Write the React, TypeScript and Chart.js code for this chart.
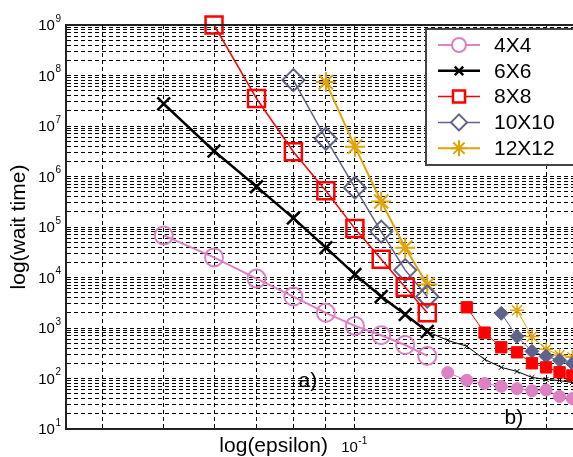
import React, { useEffect, useRef } from 'react';
import { Chart, registerables } from 'chart.js';
import { drawPoint } from 'chart.js/helpers';

Chart.register(...registerables);

const FONT = '"Liberation Sans", Arial, Helvetica, sans-serif';

const seriesNames = ['4X4', '6X6', '8X8', '10X10', '12X12'];
const seriesColors = ['#DD80C4', '#000000', '#FF0000', '#5F6389', '#E2A30A'];

// panel a) (hollow markers)
const epsA4 = [0.05, 0.06, 0.07, 0.08, 0.09, 0.1, 0.11, 0.12, 0.13];
const waitA4 = [6.8e4, 2.5e4, 9.5e3, 4.2e3, 2.0e3, 1.1e3, 7.2e2, 4.6e2, 2.8e2];
const epsA6 = [0.05, 0.06, 0.07, 0.08, 0.09, 0.1, 0.11, 0.12, 0.13];
const waitA6 = [2.75e7, 3.2e6, 6.3e5, 1.5e5, 3.9e4, 1.15e4, 4.2e3, 1.85e3, 8.5e2];
const epsA8 = [0.06, 0.07, 0.08, 0.09, 0.1, 0.11, 0.12, 0.13];
const waitA8 = [1e9, 3.5e7, 3.1e6, 5.2e5, 9.3e4, 2.3e4, 6.4e3, 2.0e3];
const epsA10 = [0.08, 0.09, 0.1, 0.11, 0.12, 0.13];
const waitA10 = [8.1e7, 5.6e6, 6.0e5, 8.1e4, 1.4e4, 4.2e3];
const epsA12 = [0.09, 0.1, 0.11, 0.12, 0.13];
const waitA12 = [7.4e7, 3.9e6, 3.2e5, 3.9e4, 7.3e3];

// panel b) (filled small markers)
const epsB4 = [0.14, 0.15, 0.16, 0.17, 0.18, 0.19, 0.2, 0.21, 0.22];
const waitB4 = [131, 92, 80, 70, 63, 57, 59, 44, 40];
const epsB6 = [0.13, 0.14, 0.15, 0.16, 0.17, 0.18, 0.19, 0.2, 0.21, 0.22];
const waitB6 = [850, 569, 436, 240, 166, 138, 105, 96, 91, 83];
const epsB8 = [0.15, 0.16, 0.17, 0.18, 0.19, 0.2, 0.21, 0.22];
const waitB8 = [2570, 810, 415, 330, 200, 166, 133, 115];
const epsB10 = [0.17, 0.18, 0.19, 0.2, 0.21, 0.22];
const waitB10 = [1950, 680, 345, 275, 230, 200];
const epsB12 = [0.18, 0.19, 0.2, 0.21, 0.22];
const waitB12 = [2240, 680, 380, 290, 265];

// tick labels: base and exponent
const yDecades = [1, 2, 3, 4, 5, 6, 7, 8, 9];
const yTickExp = ['1', '2', '3', '4', '5', '6', '7', '8', '9'];
const xGridValues = [0.04, 0.05, 0.06, 0.07, 0.08, 0.09, 0.1, 0.2];
const xLabelValues = [0.1];
const xLabelExp = ['-1'];
const tickBase = '10';
const xTitle = 'log(epsilon)';
const yTitle = 'log(wait time)';
const panelLabels = ['a)', 'b)'];
const panelLabelEps = [0.0815, 0.172];
const panelLabelWait = [89, 16];

const pts = (xs: number[], ys: number[]) => xs.map((x, i) => ({ x, y: ys[i] }));

const aStyles = [
  { pointStyle: 'circle', radius: 9, pbw: 2, lw: 2, legendR: 7 },
  { pointStyle: 'crossRot', radius: 9, pbw: 2.5, lw: 2.5, legendR: 6 },
  { pointStyle: 'rect', radius: 12, pbw: 2.5, lw: 1.5, legendR: 8.5 },
  { pointStyle: 'rectRot', radius: 11, pbw: 2, lw: 1.5, legendR: 8 },
  { pointStyle: 'star', radius: 10, pbw: 2, lw: 2, legendR: 8 },
];
const bStyles = [
  { pointStyle: 'circle', radius: 6, pbw: 1 },
  { pointStyle: 'crossRot', radius: 3.5, pbw: 1 },
  { pointStyle: 'rect', radius: 8, pbw: 1 },
  { pointStyle: 'rectRot', radius: 7, pbw: 1 },
  { pointStyle: 'star', radius: 7, pbw: 1.5 },
];

const aData = [pts(epsA4, waitA4), pts(epsA6, waitA6), pts(epsA8, waitA8), pts(epsA10, waitA10), pts(epsA12, waitA12)];
const bData = [pts(epsB4, waitB4), pts(epsB6, waitB6), pts(epsB8, waitB8), pts(epsB10, waitB10), pts(epsB12, waitB12)];

const yTickValues: number[] = [];
yDecades.forEach((e) => {
  for (let s = 1; s <= 9; s++) {
    if (e === 9 && s > 1) break;
    yTickValues.push(s * Math.pow(10, e));
  }
});

const BASE_FONT = `15px ${FONT}`;
const EXP_FONT = `10px ${FONT}`;

function powWidth(ctx: CanvasRenderingContext2D, exp: string) {
  ctx.font = BASE_FONT;
  const wb = ctx.measureText(tickBase).width;
  ctx.font = EXP_FONT;
  const we = ctx.measureText(exp).width;
  return { wb, we };
}

function drawPow(ctx: CanvasRenderingContext2D, exp: string, xLeft: number, yMid: number) {
  const { wb } = powWidth(ctx, exp);
  ctx.textAlign = 'left';
  ctx.textBaseline = 'middle';
  ctx.font = BASE_FONT;
  ctx.fillText(tickBase, xLeft, yMid);
  ctx.font = EXP_FONT;
  ctx.fillText(exp, xLeft + wb + 0.5, yMid - 7);
}

const decorPlugin = {
  id: 'decor',
  afterDraw(chart: any) {
    const { ctx, chartArea, scales } = chart;
    ctx.save();
    // top frame line
    ctx.strokeStyle = '#222';
    ctx.lineWidth = 2;
    ctx.beginPath();
    ctx.moveTo(chartArea.left - 1, chartArea.top);
    ctx.lineTo(chartArea.right, chartArea.top);
    ctx.stroke();

    ctx.fillStyle = '#000';
    // y tick labels (10^n)
    yDecades.forEach((e, i) => {
      const y = scales.y.getPixelForValue(Math.pow(10, e));
      const { wb, we } = powWidth(ctx, yTickExp[i]);
      drawPow(ctx, yTickExp[i], chartArea.left - 5 - we - wb - 0.5, y + 1);
    });
    // x tick labels
    xLabelValues.forEach((v, i) => {
      const x = scales.x.getPixelForValue(v);
      const { wb, we } = powWidth(ctx, xLabelExp[i]);
      drawPow(ctx, xLabelExp[i], x - (wb + we) / 2 - 1, chartArea.bottom + 19);
    });

    // x title
    ctx.font = `21px ${FONT}`;
    ctx.textAlign = 'right';
    ctx.textBaseline = 'middle';
    ctx.fillText(xTitle, scales.x.getPixelForValue(0.1) - 27, chartArea.bottom + 17);

    // panel labels
    ctx.font = `21px ${FONT}`;
    ctx.textAlign = 'left';
    panelLabels.forEach((t, i) => {
      ctx.fillText(t, scales.x.getPixelForValue(panelLabelEps[i]), scales.y.getPixelForValue(panelLabelWait[i]));
    });

    // legend
    const boxL = chartArea.right - 147;
    const boxT = chartArea.top + 4;
    const rowH = 25.8;
    ctx.fillStyle = '#fff';
    ctx.fillRect(boxL, boxT, 200, 136);
    ctx.strokeStyle = '#444';
    ctx.lineWidth = 2;
    ctx.strokeRect(boxL, boxT, 200, 136);
    seriesNames.forEach((name, i) => {
      const y = boxT + 16 + i * rowH;
      const st = aStyles[i];
      ctx.strokeStyle = seriesColors[i];
      ctx.lineWidth = st.lw;
      ctx.beginPath();
      ctx.moveTo(boxL + 12, y);
      ctx.lineTo(boxL + 54, y);
      ctx.stroke();
      ctx.fillStyle = '#fff';
      ctx.lineWidth = st.pbw;
      drawPoint(ctx, { pointStyle: st.pointStyle, radius: st.legendR, borderWidth: st.pbw, rotation: 0 } as any, boxL + 33, y);
      ctx.fillStyle = '#000';
      ctx.font = `21px ${FONT}`;
      ctx.textAlign = 'left';
      ctx.textBaseline = 'middle';
      ctx.fillText(name, boxL + 68, y + 1);
    });
    ctx.restore();
  },
};

export default function App() {
  const ref = useRef<HTMLCanvasElement>(null);
  useEffect(() => {
    if (!ref.current) return;
    const datasets: any[] = [];
    aData.forEach((d, i) => {
      const st = aStyles[i];
      datasets.push({
        label: seriesNames[i],
        data: d,
        borderColor: seriesColors[i],
        backgroundColor: 'rgba(0,0,0,0)',
        borderWidth: st.lw,
        pointStyle: st.pointStyle,
        pointRadius: st.radius,
        pointBorderWidth: st.pbw,
        pointBorderColor: seriesColors[i],
        pointBackgroundColor: 'rgba(0,0,0,0)',
        tension: 0,
        clip: false,
      });
    });
    bData.forEach((d, i) => {
      const st = bStyles[i];
      datasets.push({
        label: seriesNames[i] + ' b',
        data: d,
        borderColor: seriesColors[i],
        backgroundColor: seriesColors[i],
        borderWidth: 1,
        pointStyle: st.pointStyle,
        pointRadius: st.radius,
        pointBorderWidth: st.pbw,
        pointBorderColor: seriesColors[i],
        pointBackgroundColor: seriesColors[i],
        tension: 0,
        clip: false,
      });
    });

    const chart = new Chart(ref.current, {
      type: 'line',
      data: { datasets },
      plugins: [decorPlugin],
      options: {
        animation: false,
        responsive: false,
        layout: { padding: { top: 25, left: 0, right: 0, bottom: 0 }, autoPadding: false },
        plugins: { legend: { display: false }, tooltip: { enabled: false } },
        scales: {
          x: {
            type: 'logarithmic',
            min: 0.03508,
            max: 0.2205,
            afterFit: (s: any) => { s.height = 28; },
            afterBuildTicks: (s: any) => { s.ticks = xGridValues.map((v) => ({ value: v })); },
            ticks: { autoSkip: false, maxRotation: 0, callback: () => '' },
            grid: { color: '#000', lineWidth: 1, drawTicks: false },
            border: { display: true, color: '#222', width: 2, dash: [4, 3] },
          },
          y: {
            type: 'logarithmic',
            min: 10,
            max: 1e9,
            afterFit: (s: any) => { s.width = 66; },
            afterBuildTicks: (s: any) => { s.ticks = yTickValues.map((v) => ({ value: v })); },
            ticks: { autoSkip: false, callback: () => '' },
            grid: { color: '#000', lineWidth: 1, drawTicks: false },
            border: { display: true, color: '#222', width: 2, dash: [4, 3] },
            title: {
              display: true,
              text: yTitle,
              color: '#000',
              font: { family: FONT, size: 21 },
              padding: { top: 7, bottom: 0 },
            },
          },
        },
      } as any,
    });
    return () => chart.destroy();
  }, []);

  return (
    <div style={{ position: 'fixed', left: 0, top: 0, width: 573, height: 457, overflow: 'hidden', background: '#fff' }}>
      <canvas ref={ref} width={573} height={457} style={{ display: 'block' }} />
    </div>
  );
}
